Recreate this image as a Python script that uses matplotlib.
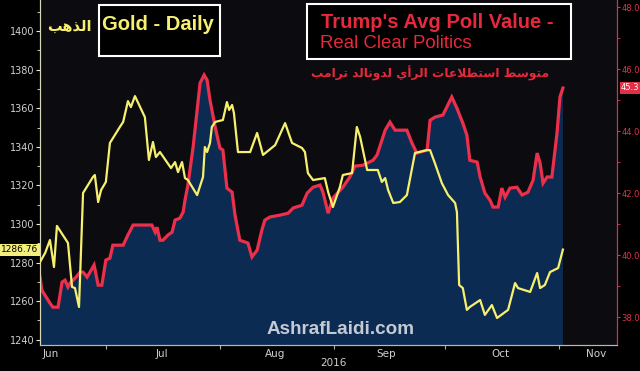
import datetime as dt
import matplotlib.pyplot as plt
import matplotlib.dates as mdates
import matplotlib.ticker as mticker
from matplotlib.patches import Rectangle

start = dt.date(2016, 6, 13)

# gold, daily (days after 13 Jun 2016, USD/oz)
gold_day = [0, 1.4, 2.7, 3.8, 4.6, 7.6, 8.7, 9.5, 10.6, 11.7,
            14.4, 14.9, 15.8, 16.6, 17.9, 19.0, 21.7, 22.6, 23.9, 24.7,
            25.8, 28.5, 29.6, 30.7, 31.5, 32.6, 35.6, 36.7, 37.5, 38.6,
            39.4, 40.2, 42.7, 44.3, 44.8, 45.4, 46.2, 46.7, 47.6, 49.7,
            50.8, 51.4, 52.2, 52.7, 53.8, 57.1, 59.0, 60.6, 63.9, 66.6,
            68.5, 71.2, 72.0, 72.8, 74.2, 77.4, 78.3, 79.6, 81.5, 82.3,
            84.8, 86.1, 87.0, 88.9, 91.8, 92.9, 93.8, 94.6, 96.0, 97.8,
            99.7, 101.9, 105.2, 106.0, 107.3, 109.2, 110.9, 112.8, 113.3, 113.9,
            114.9, 116.0, 116.8, 119.6, 120.9, 122.8, 124.2, 127.2, 129.1, 129.9,
            133.2, 135.1, 135.9, 137.2, 138.6, 140.8, 142.1]
gold_val = [1280.3, 1285.0, 1291.7, 1277.7, 1299.0, 1290.2, 1267.4, 1266.8, 1257.0, 1316.1,
            1324.4, 1325.4, 1311.4, 1317.6, 1321.8, 1342.0, 1350.3, 1352.9, 1363.7, 1360.6,
            1366.3, 1355.4, 1333.2, 1342.5, 1334.7, 1337.3, 1329.0, 1332.1, 1326.9, 1332.1,
            1323.8, 1322.8, 1315.0, 1324.4, 1339.9, 1337.3, 1342.0, 1350.3, 1352.9, 1353.9,
            1363.2, 1359.1, 1361.7, 1357.5, 1337.3, 1337.3, 1347.2, 1335.8, 1340.9, 1352.3,
            1342.0, 1339.4, 1337.3, 1326.4, 1322.8, 1323.8, 1316.6, 1308.8, 1319.2, 1325.4,
            1326.4, 1350.3, 1345.1, 1328.0, 1328.0, 1321.8, 1323.8, 1317.6, 1310.9, 1311.4,
            1315.0, 1336.8, 1338.3, 1338.3, 1331.6, 1321.2, 1315.0, 1310.9, 1306.2, 1268.4,
            1266.8, 1255.5, 1257.0, 1260.6, 1252.9, 1258.0, 1251.3, 1255.5, 1269.4, 1266.8,
            1264.8, 1274.6, 1266.8, 1268.4, 1275.1, 1277.2, 1286.76]

# Trump RCP poll average (%)
poll_day = [0, 0.5, 2.7, 3.5, 4.9, 6.0, 6.8, 7.6, 8.2, 9.8,
            10.9, 11.7, 12.8, 14.7, 15.8, 16.8, 17.9, 19.0, 19.8, 22.6,
            23.9, 25.3, 30.4, 31.3, 31.8, 32.6, 33.4, 34.8, 35.9, 36.7,
            38.0, 38.9, 39.4, 40.2, 41.6, 43.5, 44.6, 45.4, 46.2, 47.6,
            48.9, 49.7, 50.8, 52.2, 53.0, 54.3, 56.5, 57.6, 59.0, 60.3,
            61.1, 62.5, 65.2, 67.4, 68.8, 71.2, 72.6, 74.2, 76.1, 76.9,
            78.3, 79.6, 82.3, 84.2, 85.6, 87.8, 90.5, 91.6, 93.8, 95.1,
            96.5, 99.7, 101.1, 102.4, 105.2, 106.0, 107.3, 109.5, 111.9, 113.3,
            114.9, 116.0, 116.8, 118.8, 119.6, 120.9, 122.3, 123.1, 124.5, 125.5,
            126.4, 127.7, 129.6, 131.0, 132.6, 134.0, 135.1, 135.9, 136.7, 137.8,
            139.1, 140.5, 141.3, 142.1]
poll_val = [39.29, 38.87, 38.45, 38.32, 38.32, 39.13, 39.19, 38.97, 39.10, 39.29,
            39.45, 39.45, 39.29, 39.68, 39.03, 39.03, 39.84, 39.90, 40.32, 40.32,
            40.65, 40.97, 40.97, 40.74, 40.90, 40.48, 40.48, 40.65, 40.74, 41.13,
            41.19, 41.39, 41.77, 42.26, 43.48, 45.55, 45.81, 45.65, 45.00, 44.13,
            43.45, 43.39, 42.16, 42.03, 41.29, 40.48, 40.39, 39.94, 40.16, 40.81,
            41.13, 41.23, 41.29, 41.35, 41.52, 41.61, 42.00, 42.19, 42.26, 42.03,
            41.35, 41.84, 42.19, 42.52, 42.87, 42.90, 43.06, 43.23, 44.03, 44.29,
            44.03, 44.03, 43.61, 43.29, 43.39, 44.35, 44.45, 44.52, 45.10, 44.74,
            44.26, 43.87, 43.06, 43.00, 42.52, 42.00, 41.77, 41.55, 41.55, 42.16,
            41.87, 42.16, 42.19, 41.94, 42.03, 42.42, 43.29, 42.97, 42.32, 42.52,
            42.52, 43.94, 45.10, 45.39]

gold_ticks = [1240, 1260, 1280, 1300, 1320, 1340, 1360, 1380, 1400]
poll_ticks = [38.0, 40.0, 42.0, 44.0, 46.0, 48.0]
month_labels = ['Jun', 'Jul', 'Aug', 'Sep', 'Oct', 'Nov']
month_label_dates = ['2016-06-16', '2016-07-16', '2016-08-16', '2016-09-15', '2016-10-16', '2016-11-11']

# --- minimal arabic shaping (matplotlib has no bidi / joining) ---
AR_FORMS = {  # isolated, final, initial, medial
    'ا': (0xFE8D, 0xFE8E, None, None), 'أ': (0xFE83, 0xFE84, None, None),
    'ب': (0xFE8F, 0xFE90, 0xFE91, 0xFE92), 'ت': (0xFE95, 0xFE96, 0xFE97, 0xFE98),
    'د': (0xFEA9, 0xFEAA, None, None), 'ذ': (0xFEAB, 0xFEAC, None, None),
    'ر': (0xFEAD, 0xFEAE, None, None), 'س': (0xFEB1, 0xFEB2, 0xFEB3, 0xFEB4),
    'ط': (0xFEC1, 0xFEC2, 0xFEC3, 0xFEC4), 'ع': (0xFEC9, 0xFECA, 0xFECB, 0xFECC),
    'ل': (0xFEDD, 0xFEDE, 0xFEDF, 0xFEE0), 'م': (0xFEE1, 0xFEE2, 0xFEE3, 0xFEE4),
    'ن': (0xFEE5, 0xFEE6, 0xFEE7, 0xFEE8), 'ه': (0xFEE9, 0xFEEA, 0xFEEB, 0xFEEC),
    'و': (0xFEED, 0xFEEE, None, None), 'ي': (0xFEF1, 0xFEF2, 0xFEF3, 0xFEF4),
}
LAM_ALEF = {'ا': (0xFEFB, 0xFEFC), 'أ': (0xFEF7, 0xFEF8)}


def shape_arabic(text):
    words = []
    for word in text.split(' '):
        items = []
        i = 0
        while i < len(word):
            if word[i] == 'ل' and i + 1 < len(word) and word[i + 1] in LAM_ALEF:
                items.append(('LA', word[i + 1]))
                i += 2
            else:
                items.append(('C', word[i]))
                i += 1
        out = []
        for k, (kind, c) in enumerate(items):
            prev = items[k - 1] if k > 0 else None
            prev_joins = prev is not None and prev[0] == 'C' and AR_FORMS[prev[1]][2] is not None
            if kind == 'LA':
                out.append(chr(LAM_ALEF[c][1 if prev_joins else 0]))
                continue
            f = AR_FORMS[c]
            can_left = f[2] is not None and k + 1 < len(items)
            if prev_joins and can_left:
                form = f[3]
            elif prev_joins:
                form = f[1]
            elif can_left:
                form = f[2]
            else:
                form = f[0]
            out.append(chr(form))
        words.append(''.join(reversed(out)))
    return ' '.join(reversed(words))


W, H = 640, 371
fig = plt.figure(figsize=(6.4, 3.71), dpi=100, facecolor='black')
ax = fig.add_axes([40 / W, 1 - 345 / H, 577 / W, 345 / H])
ax.set_facecolor('#0c0c10')
g = ax.twinx()
g.patch.set_visible(False)

t0 = mdates.date2num(start)
px = [t0 + d for d in poll_day]
gx = [t0 + d for d in gold_day]

ax.fill_between(px, poll_val, 30, color='#0c2b52', lw=0, zorder=1)
ax.plot(px, poll_val, color='#ec2f4b', lw=2.3, solid_joinstyle='miter', zorder=2)
g.plot(gx, gold_val, color='#f7f06e', lw=1.6, zorder=3)

ax.set_xlim(t0, t0 + 156.8)
ax.set_ylim(37.10, 48.23)
g.set_ylim(1237.3, 1416.1)

# poll axis on the right, gold on the left
ax.yaxis.tick_right()
g.yaxis.tick_left()
ax.set_yticks(poll_ticks)
ax.yaxis.set_minor_locator(mticker.MultipleLocator(1))
ax.yaxis.set_major_formatter(mticker.FormatStrFormatter('%.1f'))
ax.tick_params(axis='y', which='both', colors='#d8344c', labelsize=6, direction='out',
               left=False, right=True, labelleft=False, labelright=True)
ax.tick_params(axis='y', which='major', length=2.5, pad=0.5)
ax.tick_params(axis='y', which='minor', length=2)
g.set_yticks(gold_ticks)
g.yaxis.set_minor_locator(mticker.MultipleLocator(10))
g.tick_params(axis='y', which='both', colors='#e8e8c8', labelcolor='#d0d0d0', labelsize=7,
              direction='out', left=True, right=False, labelleft=True, labelright=False)
g.tick_params(axis='y', which='major', length=3, pad=1)
g.tick_params(axis='y', which='minor', length=2)

ax.xaxis.set_major_locator(mdates.MonthLocator())
ax.xaxis.set_major_formatter(mticker.NullFormatter())
ax.xaxis.set_minor_locator(mticker.FixedLocator(mdates.datestr2num(month_label_dates)))
ax.xaxis.set_minor_formatter(mticker.FixedFormatter(month_labels))
ax.tick_params(axis='x', which='major', length=3, color='#b0b0b0')
ax.tick_params(axis='x', which='minor', length=0, labelsize=7.5, labelcolor='#d0d0d0', pad=3)

for a in (ax, g):
    a.spines['top'].set_visible(False)
    a.spines['left'].set_color('#d8d8b8')
    a.spines['right'].set_color('#d8344c')
    a.spines['bottom'].set_color('#b8b8b8')

fig.text(333 / W, 1 - 363 / H, '2016', color='#d0d0d0', fontsize=7.5, ha='center', va='center')

# last value flags
fig.text(20 / W, 1 - 250 / H, '1286.76', color='black', fontsize=6.5, ha='center', va='center',
         bbox=dict(boxstyle='square,pad=0.15', fc='#f4ee7c', ec='none'))
fig.text(621 / W, 1 - 88 / H, '45.3', color='white', fontsize=6, ha='left', va='center',
         bbox=dict(boxstyle='square,pad=0.15', fc='#e03048', ec='none'))

# titles
fig.add_artist(Rectangle((99 / W, 1 - 56 / H), 121 / W, 51 / H, transform=fig.transFigure,
                         fc='black', ec='white', lw=1.5))
fig.text(158 / W, 1 - 24 / H, 'Gold - Daily', color='#f7f06e', fontsize=14.5,
         fontweight='bold', family='Liberation Sans', ha='center', va='center')
fig.text(69 / W, 1 - 26 / H, shape_arabic('الذهب'), color='#f7f06e', fontsize=10.5,
         fontweight='bold', family='DejaVu Sans', ha='center', va='center')

fig.add_artist(Rectangle((307 / W, 1 - 59 / H), 264 / W, 55 / H, transform=fig.transFigure,
                         fc='black', ec='white', lw=1.5))
fig.text(321 / W, 1 - 22 / H, "Trump's Avg Poll Value -", color='#e8283c', fontsize=14.5,
         fontweight='bold', family='Liberation Sans', ha='left', va='center')
fig.text(320 / W, 1 - 44 / H, 'Real Clear Politics', color='#e8283c', fontsize=13.4,
         family='Liberation Sans', ha='left', va='center')
fig.text(430 / W, 1 - 73 / H, shape_arabic('متوسط استطلاعات الرأي لدونالد ترامب'),
         color='#e8283c', fontsize=8.8, fontweight='bold', family='DejaVu Sans',
         ha='center', va='center')

fig.text(341 / W, 1 - 330 / H, 'AshrafLaidi.com', color='#c4cad4', fontsize=13.6,
         fontweight='bold', family='Liberation Sans', ha='center', va='center')

fig.savefig('out.png', dpi=100, facecolor='black')
